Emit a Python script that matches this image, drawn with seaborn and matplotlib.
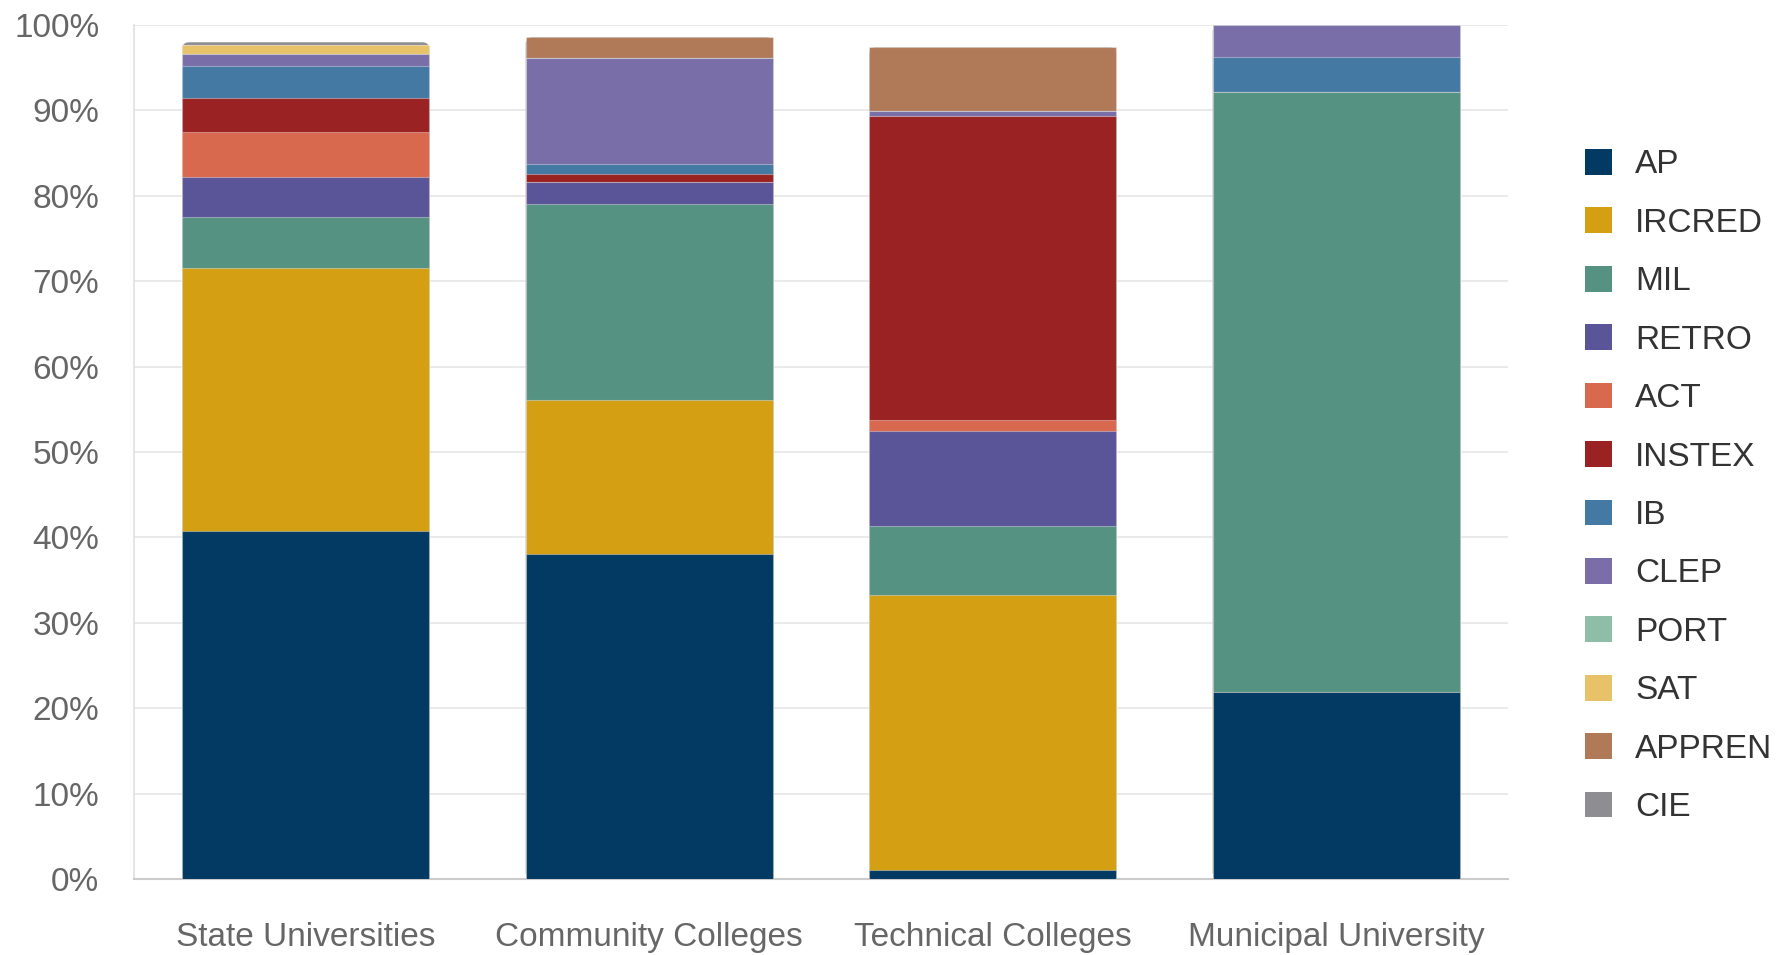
import numpy as np
import pandas as pd
import matplotlib
matplotlib.use("Agg")
import matplotlib.pyplot as plt
from matplotlib.patches import Patch, FancyBboxPatch
from matplotlib.ticker import FuncFormatter
import seaborn as sns

categories = ["State Universities", "Community Colleges", "Technical Colleges", "Municipal University"]
series_names = ["AP", "IRCRED", "MIL", "RETRO", "ACT", "INSTEX", "IB", "CLEP", "PORT", "SAT", "APPREN", "CIE"]

AP     = [40.7, 38.0, 1.1, 21.9]
IRCRED = [30.8, 18.1, 32.2, 0.0]
MIL    = [6.0, 22.9, 8.0, 70.2]
RETRO  = [4.7, 2.6, 11.2, 0.0]
ACT    = [5.3, 0.0, 1.2, 0.0]
INSTEX = [4.0, 1.0, 35.6, 0.0]
IB     = [3.7, 1.1, 0.0, 4.1]
CLEP   = [1.4, 12.4, 0.6, 3.8]
PORT   = [0.0, 0.0, 0.0, 0.0]
SAT    = [1.1, 0.0, 0.0, 0.0]
APPREN = [0.0, 2.5, 7.5, 0.0]
CIE    = [0.3, 0.0, 0.0, 0.0]

colors = ["#023a63", "#d49f12", "#559282", "#5a5499", "#d8694f", "#9b2222",
          "#4479a3", "#7a6ea8", "#8fbea8", "#e8c268", "#b07a58", "#8e8e92"]

series = [AP, IRCRED, MIL, RETRO, ACT, INSTEX, IB, CLEP, PORT, SAT, APPREN, CIE]
cum = np.cumsum(np.array(series, dtype=float), axis=0)

sns.set_theme(style="white")
plt.rcParams["font.family"] = ["Liberation Sans", "DejaVu Sans"]

W, H = 1781, 955
fig = plt.figure(figsize=(W / 100, H / 100), dpi=100)
ax_l, ax_r, ax_t, ax_b = 134, 1508, 25, 879
ax = fig.add_axes([ax_l / W, 1 - ax_b / H, (ax_r - ax_l) / W, (ax_b - ax_t) / H])

for i in reversed(range(len(series))):
    df = pd.DataFrame({"cat": categories, "val": cum[i]})
    sns.barplot(data=df, x="cat", y="val", order=categories, color=colors[i],
                saturation=1, width=0.72, errorbar=None, ax=ax,
                edgecolor=(1, 1, 1, 0.35), linewidth=0.8, zorder=3)

ax.set_xlim(-0.5, 3.5)
ax.set_ylim(0, 100)

# round the top corners of the outermost (total) bars
px_x = 4.0 / (ax_r - ax_l)
px_y = 100.0 / (ax_b - ax_t)
top_patches = list(ax.patches[:len(categories)])
for p in top_patches:
    x0, y0 = p.get_x(), p.get_y()
    w, h = p.get_width(), p.get_height()
    fb = FancyBboxPatch((x0, y0), w, h,
                        boxstyle=f"round,pad=0,rounding_size={7 * px_x}",
                        mutation_aspect=px_y / px_x,
                        facecolor=p.get_facecolor(), edgecolor=(1, 1, 1, 0.35),
                        linewidth=0.8, zorder=p.get_zorder())
    p.remove()
    ax.add_patch(fb)
    fb.set_zorder(2.9)

ax.set_yticks(np.arange(0, 101, 10))
ax.yaxis.set_major_formatter(FuncFormatter(lambda v, p: f"{int(v)}%"))
ax.set_xlabel("")
ax.set_ylabel("")
ax.grid(axis="y", color="#e6e6e6", linewidth=1.2, zorder=0)
ax.set_axisbelow(True)
for s in ["top", "right"]:
    ax.spines[s].set_visible(False)
ax.spines["left"].set_color("#e0e0e0")
ax.spines["left"].set_linewidth(1.2)
ax.spines["bottom"].set_color("#cccccc")
ax.spines["bottom"].set_linewidth(1.5)
ax.tick_params(axis="y", length=18, color="#e6e6e6", width=1.2, labelsize=24,
               labelcolor="#666666", pad=7)
ax.tick_params(axis="x", length=0, labelsize=24, labelcolor="#666666", pad=31)

handles = [Patch(facecolor=c, edgecolor="none") for c in colors]
fig.legend(handles, series_names, loc="upper left", bbox_to_anchor=(1585 / W, 1 - 149 / H),
           frameon=False, fontsize=24, labelcolor="#333333", handlelength=0.81,
           handleheight=0.81, handletextpad=0.69, labelspacing=0.81,
           borderaxespad=0, borderpad=0)

fig.savefig("out.png", dpi=100)
